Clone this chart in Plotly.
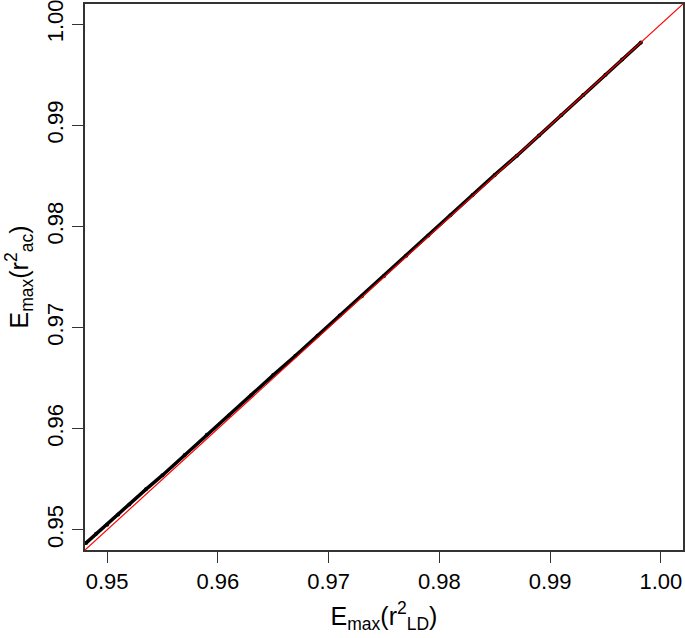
import plotly.graph_objects as go

# Emax(r^2_LD) vs Emax(r^2_ac)
x_ld = [0.9481, 0.9490, 0.9500, 0.9510, 0.9520, 0.9535, 0.9550, 0.9570, 0.9590,
        0.9610, 0.9630, 0.9650, 0.9670, 0.9690, 0.9710, 0.9730, 0.9750, 0.9770,
        0.9790, 0.9810, 0.9830, 0.9850, 0.9870, 0.9890, 0.9910, 0.9930, 0.9950,
        0.9965, 0.9982]
y_ac = [0.9487, 0.9496, 0.9505, 0.9515, 0.9525, 0.9540, 0.9554, 0.9574, 0.9594,
        0.9613, 0.9633, 0.9653, 0.9672, 0.9692, 0.9712, 0.9731, 0.9751, 0.9771,
        0.9791, 0.9811, 0.9831, 0.9851, 0.9870, 0.9890, 0.9910, 0.9930, 0.9950,
        0.9965, 0.9982]
ref_line = [0.940, 1.010]
ticks = [0.95, 0.96, 0.97, 0.98, 0.99, 1.00]
tick_text = ["0.95", "0.96", "0.97", "0.98", "0.99", "1.00"]
axis_range = [0.948, 1.002]

fig = go.Figure()
fig.add_trace(go.Scatter(x=x_ld, y=y_ac, mode="lines+markers",
                         line=dict(color="black", width=3.5),
                         marker=dict(color="black", size=4), showlegend=False))
fig.add_trace(go.Scatter(x=ref_line, y=ref_line, mode="lines",
                         line=dict(color="red", width=1.2), showlegend=False))

font = "Liberation Sans, Arial, sans-serif"
axis_common = dict(range=axis_range, tickvals=ticks, ticktext=tick_text,
                   ticks="outside", ticklen=11, tickwidth=1.3, tickcolor="#333",
                   showline=True, linecolor="#333", linewidth=1.5, mirror=True,
                   showgrid=False, zeroline=False, automargin=False,
                   ticklabeloverflow="allow",
                   tickfont=dict(family=font, size=22, color="black"))
fig.update_xaxes(**axis_common,
                 title=dict(text="E<sub>max</sub>(r<sup>2</sup><sub>LD</sub>)",
                            font=dict(family=font, size=25, color="black"),
                            standoff=14))
fig.update_yaxes(**axis_common, tickangle=-90,
                 title=dict(text="E<sub>max</sub>(r<sup>2</sup><sub>ac</sub>)",
                            font=dict(family=font, size=25, color="black"),
                            standoff=8))
fig.update_layout(width=685, height=638, margin=dict(l=85, r=2, t=4, b=88),
                  plot_bgcolor="white", paper_bgcolor="white")
fig.write_html("out.html", post_script="document.body.style.margin='0';",
               config={"displayModeBar": False})
